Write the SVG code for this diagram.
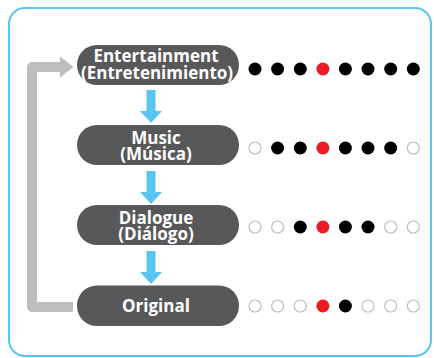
<svg xmlns="http://www.w3.org/2000/svg" width="434" height="358" viewBox="0 0 434 358">
<style>
.frame{fill:#fff;stroke:#5bc5f2;stroke-width:2}
.pill{fill:#58585a}
.lbl{font-family:"Open Sans","DejaVu Sans",sans-serif;font-weight:700;font-size:17px;fill:#fff;text-anchor:middle}
.flow{fill:#5bc5f2}
.loop{fill:none;stroke:#bcbec0;stroke-width:10;stroke-linejoin:round}
.loophead{fill:#bcbec0}
.b{fill:#000}
.r{fill:#ed1c24}
.o{fill:#fff;stroke:#bcbec0;stroke-width:1.2}
</style>
<defs>
<polygon id="down" points="-4.5,0 4.5,0 4.5,21 11,21 0,33 -11,21 -4.5,21"/>
</defs>
<rect class="frame" x="9" y="8" width="422" height="348" rx="16"/>
<g id="connectors">
<use href="#down" class="flow" x="151" y="90"/>
<use href="#down" class="flow" x="151" y="171"/>
<use href="#down" class="flow" x="151" y="251"/>
<path class="loop" d="M73 307 H32 V67 H61"/>
<polygon class="loophead" points="60,56.5 73.5,67 60,77.5"/>
</g>
<g id="node-entertainment">
<rect class="pill" x="77" y="45" width="162" height="40" rx="20"/>
<text class="lbl" x="156" y="62">Entertainment</text>
<text class="lbl" x="157" y="78.5">(Entretenimiento)</text>
</g>
<g id="node-music">
<rect class="pill" x="77" y="125" width="162" height="40" rx="20"/>
<text class="lbl" x="156" y="143.5">Music</text>
<text class="lbl" x="156" y="160">(Música)</text>
</g>
<g id="node-dialogue">
<rect class="pill" x="77" y="205" width="162" height="40" rx="20"/>
<text class="lbl" x="156" y="223.5">Dialogue</text>
<text class="lbl" x="156" y="240">(Diálogo)</text>
</g>
<g id="node-original">
<rect class="pill" x="77" y="285.5" width="162" height="40.5" rx="20"/>
<text class="lbl" x="156" y="311.5">Original</text>
</g>
<g id="dots-entertainment">
<circle class="b" cx="255" cy="69" r="6.5"/><circle class="b" cx="277.6" cy="69" r="6.5"/><circle class="b" cx="300.3" cy="69" r="6.5"/><circle class="r" cx="322.9" cy="69" r="6.5"/><circle class="b" cx="345.4" cy="69" r="6.5"/><circle class="b" cx="368" cy="69" r="6.5"/><circle class="b" cx="390.7" cy="69" r="6.5"/><circle class="b" cx="413.3" cy="69" r="6.5"/>
</g>
<g id="dots-music">
<circle class="o" cx="255" cy="148" r="6"/><circle class="b" cx="277.6" cy="148" r="6.5"/><circle class="b" cx="300.3" cy="148" r="6.5"/><circle class="r" cx="322.9" cy="148" r="6.5"/><circle class="b" cx="345.4" cy="148" r="6.5"/><circle class="b" cx="368" cy="148" r="6.5"/><circle class="b" cx="390.7" cy="148" r="6.5"/><circle class="o" cx="413.3" cy="148" r="6"/>
</g>
<g id="dots-dialogue">
<circle class="o" cx="255" cy="227" r="6"/><circle class="o" cx="277.6" cy="227" r="6"/><circle class="b" cx="300.3" cy="227" r="6.5"/><circle class="r" cx="322.9" cy="227" r="6.5"/><circle class="b" cx="345.4" cy="227" r="6.5"/><circle class="b" cx="368" cy="227" r="6.5"/><circle class="o" cx="390.7" cy="227" r="6"/><circle class="o" cx="413.3" cy="227" r="6"/>
</g>
<g id="dots-original">
<circle class="o" cx="255" cy="306" r="6"/><circle class="o" cx="277.6" cy="306" r="6"/><circle class="o" cx="300.3" cy="306" r="6"/><circle class="r" cx="322.9" cy="306" r="6.5"/><circle class="b" cx="345.4" cy="306" r="6.5"/><circle class="o" cx="368" cy="306" r="6"/><circle class="o" cx="390.7" cy="306" r="6"/><circle class="o" cx="413.3" cy="306" r="6"/>
</g>
</svg>
